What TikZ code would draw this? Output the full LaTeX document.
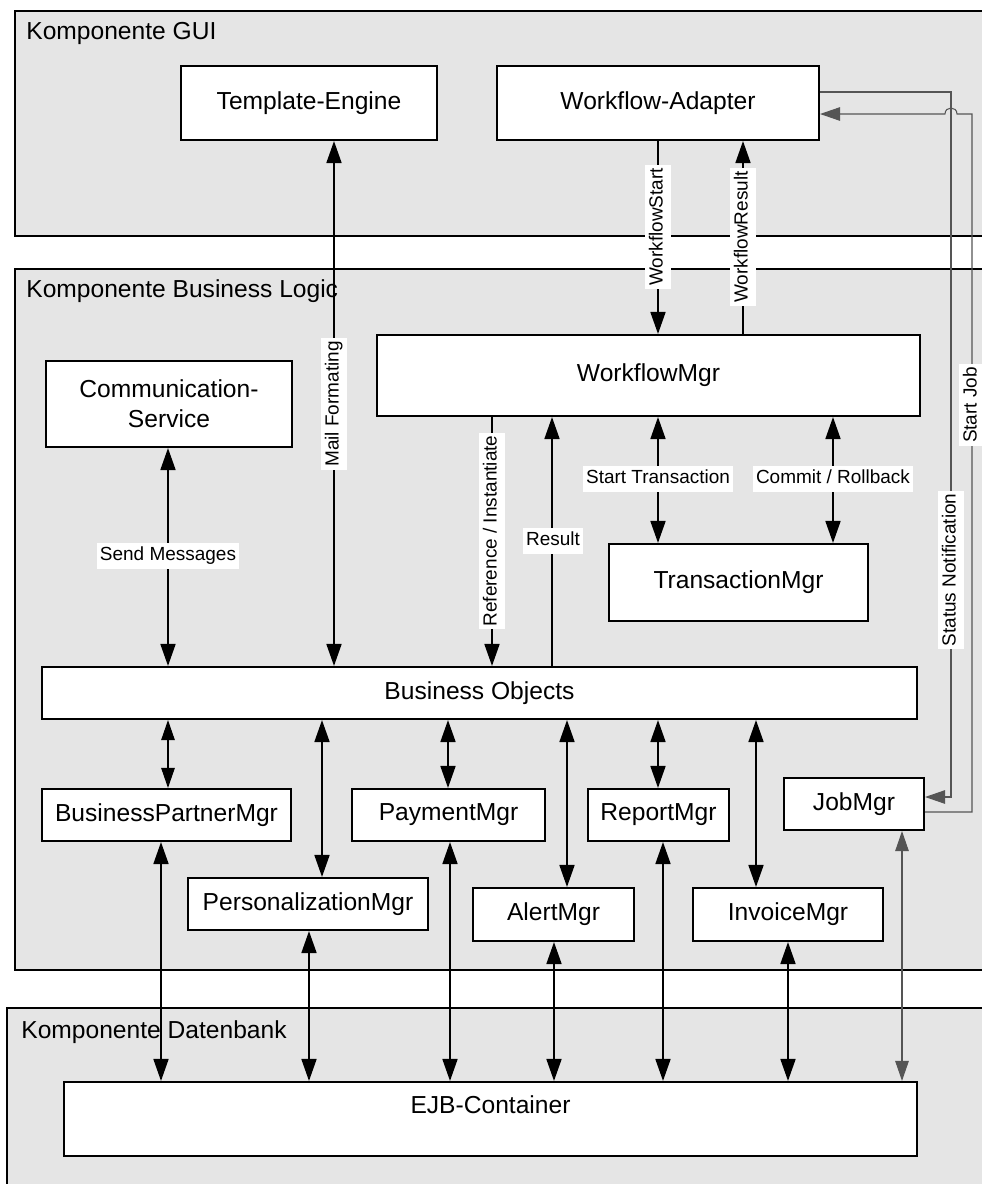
\documentclass[tikz,border=0pt]{standalone}
\usepackage{fontspec}
\setmainfont{Liberation Sans}
\usetikzlibrary{arrows.meta,calc}

\definecolor{panelfill}{RGB}{229,229,229}
\definecolor{thinline}{RGB}{85,85,85}

\newcommand\boxfont{\fontsize{14}{17}\selectfont}
\newcommand\tagfont{\fontsize{10.8}{13}\selectfont}

\tikzset{
  bigtip/.tip={Triangle[length=4.4mm,width=3mm]},
  smalltip/.tip={Triangle[length=4mm,width=2.7mm]},
  panel/.style={draw=black, line width=1.1pt, fill=panelfill},
  paneltitle/.style={anchor=west, font=\boxfont, inner sep=0pt},
  box/.style={draw=black, line width=1.2pt, fill=white, font=\boxfont,
    align=center, inner sep=0pt},
  conn/.style={draw=black, line width=1pt},
  thinconn/.style={draw=black, line width=0.6pt},
  greyconn/.style={draw=thinline, line width=0.6pt},
  tag/.style={fill=white, font=\tagfont, inner xsep=0.06cm, inner ysep=0.08cm,
    text height=0.75em, text depth=0.22em},
}

\begin{document}
\begin{tikzpicture}[x=0.02cm, y=-0.02cm]
  \clip (0,0) rectangle (982,1184);

  % component panels
  \path[panel] (15,11) rectangle (1010,236);
  \path[panel] (15,269) rectangle (1010,970);
  \path[panel] (7,1008) rectangle (1010,1210);
  \node[paneltitle] (tGui) at (26,33) {Komponente GUI};
  \node[paneltitle] (tLogic) at (26,291) {Komponente Business Logic};
  \node[paneltitle] (tDb) at (21,1032) {Komponente Datenbank};

  % GUI
  \node[box, minimum width=5.12cm, minimum height=1.48cm] (te) at (309,103) {Template-Engine};
  \node[box, minimum width=6.44cm, minimum height=1.48cm] (wa) at (658,103) {Workflow-Adapter};

  % business logic
  \node[box, minimum width=4.92cm, minimum height=1.72cm] (cs) at (169,404) {Communication-\\Service};
  \node[box, minimum width=10.86cm, minimum height=1.62cm] (wm) at (648.5,375.5) {WorkflowMgr};
  \node[box, minimum width=5.18cm, minimum height=1.54cm] (tm) at (738.5,582.5) {TransactionMgr};
  \node[box, minimum width=17.5cm, minimum height=1.04cm] (bo) at (479.5,693) {Business Objects};
  \node[box, minimum width=4.98cm, minimum height=1.04cm] (bpm) at (166.5,815) {BusinessPartnerMgr};
  \node[box, minimum width=4.8cm, minimum height=1.04cm] (pm) at (308,904) {PersonalizationMgr};
  \node[box, minimum width=3.86cm, minimum height=1.04cm] (pay) at (448.5,815) {PaymentMgr};
  \node[box, minimum width=3.22cm, minimum height=1.06cm] (alert) at (553.5,914.5) {AlertMgr};
  \node[box, minimum width=2.82cm, minimum height=1.04cm] (rep) at (658.5,815) {ReportMgr};
  \node[box, minimum width=3.8cm, minimum height=1.06cm] (inv) at (788,914.5) {InvoiceMgr};
  \node[box, minimum width=2.8cm, minimum height=1.04cm] (job) at (854,804) {JobMgr};

  % database
  \node[box, minimum width=17.06cm, minimum height=1.48cm] (ejb) at (490.5,1119) {};
  \node[font=\boxfont, inner sep=0pt] (ejbText) at (490.5,1105) {EJB-Container};

  % connector columns
  \coordinate (xMail) at (334,0);
  \coordinate (xStart) at (658,0);
  \coordinate (xWfRes) at (743,0);
  \coordinate (xSend) at (168,0);
  \coordinate (xRef) at (492,0);
  \coordinate (xRes) at (552,0);
  \coordinate (xCommit) at (833,0);
  \coordinate (xBpmUp) at (168,0);
  \coordinate (xPmUp) at (322,0);
  \coordinate (xPayUp) at (448,0);
  \coordinate (xAlertUp) at (567,0);
  \coordinate (xRepUp) at (658,0);
  \coordinate (xInvUp) at (756,0);
  \coordinate (xBpmDn) at (161,0);
  \coordinate (xPmDn) at (309,0);
  \coordinate (xPayDn) at (450,0);
  \coordinate (xAlertDn) at (554,0);
  \coordinate (xRepDn) at (663,0);
  \coordinate (xInvDn) at (788,0);
  \coordinate (xJobDn) at (902,0);

  % GUI <-> business logic
  \draw[conn, bigtip-bigtip] (te.south -| xMail) -- (bo.north -| xMail);
  \draw[conn, -bigtip] (wa.south -| xStart) -- (wm.north -| xStart);
  \draw[conn, -bigtip] (wm.north -| xWfRes) -- (wa.south -| xWfRes);

  % inside business logic
  \draw[conn, bigtip-bigtip] (cs.south -| xSend) -- (bo.north -| xSend);
  \draw[conn, -bigtip] (wm.south -| xRef) -- (bo.north -| xRef);
  \draw[conn, -bigtip] (bo.north -| xRes) -- (wm.south -| xRes);
  \draw[conn, bigtip-bigtip] (wm.south -| xStart) -- (tm.north -| xStart);
  \draw[conn, bigtip-bigtip] (wm.south -| xCommit) -- (tm.north -| xCommit);

  \draw[thinconn, smalltip-smalltip] (bo.south -| xBpmUp) -- (bpm.north -| xBpmUp);
  \draw[conn, bigtip-bigtip] (bo.south -| xPmUp) -- (pm.north -| xPmUp);
  \draw[conn, bigtip-bigtip] (bo.south -| xPayUp) -- (pay.north -| xPayUp);
  \draw[conn, bigtip-bigtip] (bo.south -| xAlertUp) -- (alert.north -| xAlertUp);
  \draw[conn, bigtip-bigtip] (bo.south -| xRepUp) -- (rep.north -| xRepUp);
  \draw[conn, bigtip-bigtip] (bo.south -| xInvUp) -- (inv.north -| xInvUp);

  % managers <-> EJB container
  \draw[conn, bigtip-bigtip] (bpm.south -| xBpmDn) -- (ejb.north -| xBpmDn);
  \draw[conn, bigtip-bigtip] (pm.south -| xPmDn) -- (ejb.north -| xPmDn);
  \draw[conn, bigtip-bigtip] (pay.south -| xPayDn) -- (ejb.north -| xPayDn);
  \draw[conn, bigtip-bigtip] (alert.south -| xAlertDn) -- (ejb.north -| xAlertDn);
  \draw[conn, bigtip-bigtip] (rep.south -| xRepDn) -- (ejb.north -| xRepDn);
  \draw[conn, bigtip-bigtip] (inv.south -| xInvDn) -- (ejb.north -| xInvDn);
  \draw[greyconn, smalltip-smalltip] (job.south -| xJobDn) -- (ejb.north -| xJobDn);

  % workflow adapter <-> job manager
  \coordinate (snTop) at (951,92);
  \coordinate (snLow) at (951,797);
  \draw[greyconn, -smalltip] ($(wa.east)+(0,-11)$) -- (snTop) -- (snLow) -- ($(job.east)+(0,-7)$);
  \coordinate (sjLow) at (972,812);
  \coordinate (sjTop) at (972,114);
  \coordinate (hopR) at (957,114);
  \coordinate (hopL) at (945,114);
  \draw[greyconn, -smalltip] ($(job.east)+(0,8)$) -- (sjLow) -- (sjTop) -- (hopR)
    .. controls (957,106) and (945,106) .. (hopL) -- ($(wa.east)+(0,11)$);

  % connector labels
  \node[tag, rotate=90] (lMail) at (334,404) {Mail Formating};
  \node[tag] (lSend) at (168,556) {Send Messages};
  \node[tag, rotate=90] (lWfStart) at (658,227) {WorkflowStart};
  \node[tag, rotate=90] (lWfRes) at (743,237) {WorkflowResult};
  \node[tag, rotate=90] (lRef) at (492,531) {Reference / Instantiate};
  \node[tag] (lRes) at (553,541) {Result};
  \node[tag] (lStartTx) at (658,479) {Start Transaction};
  \node[tag] (lCommit) at (833,479) {Commit / Rollback};
  \node[tag, rotate=90] (lStatus) at (951,570) {Status Notification};
  \node[tag, rotate=90] (lStartJob) at (972,405) {Start Job};
\end{tikzpicture}
\end{document}
